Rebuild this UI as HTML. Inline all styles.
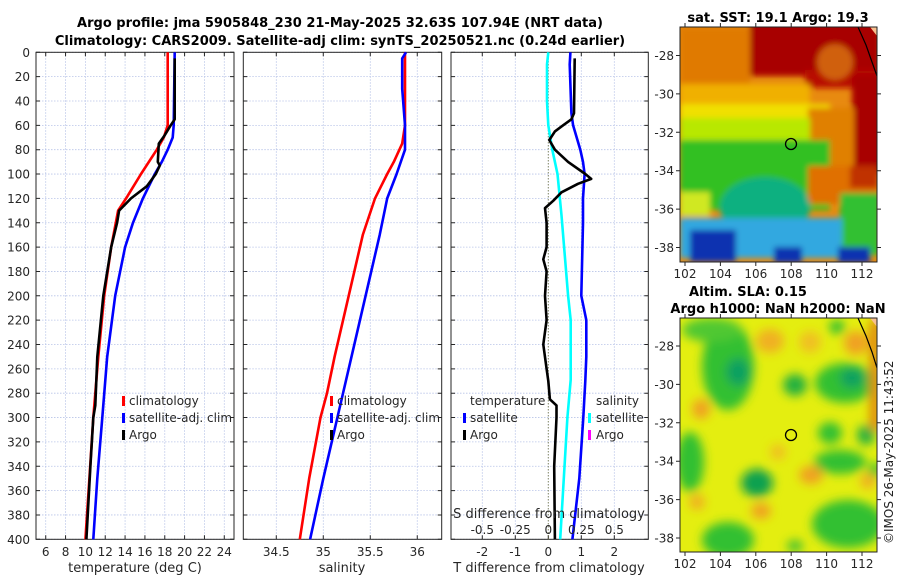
<!DOCTYPE html>
<html><head><meta charset="utf-8"><style>
html,body{margin:0;padding:0;background:#fff;}
svg{display:block;font-family:"DejaVu Sans","Liberation Sans",sans-serif;}
</style></head><body>
<svg id="fig" width="900" height="580" viewBox="0 0 900 580" xmlns="http://www.w3.org/2000/svg">
<defs>
<filter id="blur1" x="-20%" y="-20%" width="140%" height="140%"><feGaussianBlur stdDeviation="3"/></filter>
<filter id="blur2" x="-20%" y="-20%" width="140%" height="140%"><feGaussianBlur stdDeviation="5"/></filter>
<clipPath id="clipTop"><rect x="680" y="27" width="197" height="235"/></clipPath>
<clipPath id="clipBot"><rect x="680" y="318" width="197" height="234"/></clipPath>
</defs>
<text x="340" y="27" text-anchor="middle" font-size="13" font-weight="bold" fill="#000">Argo profile: jma 5905848_230 21-May-2025 32.63S 107.94E (NRT data)</text>
<text x="340" y="45" text-anchor="middle" font-size="13" font-weight="bold" fill="#000">Climatology: CARS2009. Satellite-adj clim: synTS_20250521.nc (0.24d earlier)</text>

<!-- SST map -->
<g>
<text x="778" y="22" text-anchor="middle" font-size="13" font-weight="bold">sat. SST: 19.1 Argo: 19.3</text>
<g clip-path="url(#clipTop)">
<rect x="680" y="27" width="197" height="235" fill="#e88a10"/>
<g filter="url(#blur1)">
<rect x="680" y="27" width="70" height="60" fill="#e07a00"/>
<rect x="750" y="20" width="130" height="56" fill="#a80000"/>
<rect x="805" y="70" width="75" height="18" fill="#b81000"/>
<rect x="852" y="74" width="30" height="100" fill="#a80000"/>
<ellipse cx="835" cy="62" rx="18" ry="18" fill="#d06010"/>
<rect x="680" y="84" width="130" height="24" fill="#f0b000"/>
<rect x="680" y="104" width="150" height="22" fill="#f0e000"/>
<rect x="808" y="108" width="46" height="66" fill="#e08000"/>
<rect x="680" y="118" width="130" height="28" fill="#b8e800"/>
<rect x="680" y="140" width="150" height="70" fill="#30c020"/>
<rect x="808" y="166" width="70" height="38" fill="#e07000"/>
<rect x="850" y="166" width="28" height="22" fill="#c03000"/>
<rect x="680" y="192" width="30" height="24" fill="#d0e820"/>
<ellipse cx="765" cy="207" rx="45" ry="30" fill="#10b080"/>
<rect x="840" y="193" width="40" height="62" fill="#30c030"/>
<rect x="680" y="218" width="162" height="40" fill="#30a8e0"/>
<rect x="690" y="230" width="46" height="32" fill="#0a30b0"/>
<rect x="774" y="247" width="28" height="16" fill="#0a30b0"/>
<rect x="838" y="247" width="32" height="16" fill="#0a30b0"/>
</g>
<path d="M858 27 L866 45 L872 62 L877 76" stroke="#000" stroke-width="1.2" fill="none"/>
<path d="M870 27 L877 27 L877 36 Z" fill="#f8c090"/>
</g>
<rect x="680" y="27" width="197" height="235" fill="none" stroke="#222" stroke-width="1"/>
<circle cx="791" cy="144" r="5.5" fill="none" stroke="#000" stroke-width="1.3"/>
</g>

<!-- SLA map -->
<g>
<text x="748" y="296" text-anchor="middle" font-size="13" font-weight="bold">Altim. SLA: 0.15</text>
<text x="778" y="313" text-anchor="middle" font-size="13" font-weight="bold">Argo h1000: NaN h2000: NaN</text>
<g clip-path="url(#clipBot)">
<rect x="680" y="318" width="197" height="234" fill="#e4ee10"/>
<g filter="url(#blur2)">
<ellipse cx="728" cy="366" rx="26" ry="44" fill="#30c030"/>
<ellipse cx="712" cy="330" rx="30" ry="12" fill="#50c830"/>
<ellipse cx="738" cy="372" rx="12" ry="14" fill="#10a060"/>
<ellipse cx="795" cy="385" rx="12" ry="11" fill="#20b040"/>
<ellipse cx="845" cy="383" rx="30" ry="20" fill="#30c030"/>
<ellipse cx="852" cy="378" rx="12" ry="10" fill="#10a060"/>
<ellipse cx="837" cy="327" rx="8" ry="7" fill="#30c030"/>
<ellipse cx="830" cy="433" rx="12" ry="11" fill="#30c030"/>
<ellipse cx="866" cy="435" rx="9" ry="10" fill="#20b040"/>
<ellipse cx="840" cy="462" rx="26" ry="12" fill="#30c030"/>
<ellipse cx="875" cy="470" rx="7" ry="7" fill="#30c030"/>
<ellipse cx="690" cy="462" rx="14" ry="30" fill="#30c030"/>
<ellipse cx="757" cy="483" rx="16" ry="14" fill="#10a050"/>
<ellipse cx="848" cy="524" rx="36" ry="24" fill="#30c030"/>
<ellipse cx="728" cy="540" rx="26" ry="18" fill="#30c030"/>
<ellipse cx="795" cy="546" rx="8" ry="6" fill="#40c030"/>
<ellipse cx="770" cy="341" rx="14" ry="12" fill="#f0b020"/>
<ellipse cx="810" cy="342" rx="11" ry="11" fill="#f0c020"/>
<ellipse cx="856" cy="343" rx="12" ry="12" fill="#f0a020"/>
<rect x="870" y="320" width="10" height="110" fill="#e08010"/>
<ellipse cx="701" cy="409" rx="9" ry="10" fill="#f0a020"/>
<ellipse cx="778" cy="452" rx="8" ry="8" fill="#f0c020"/>
<ellipse cx="811" cy="475" rx="12" ry="9" fill="#f0a020"/>
<ellipse cx="761" cy="511" rx="10" ry="8" fill="#f0a020"/>
<ellipse cx="697" cy="502" rx="8" ry="8" fill="#f0b020"/>
<ellipse cx="868" cy="481" rx="8" ry="8" fill="#f0b020"/>
</g>
<path d="M858 318 L866 336 L872 352 L877 368" stroke="#000" stroke-width="1.2" fill="none"/>
<path d="M870 318 L877 318 L877 327 Z" fill="#f8c090"/>
</g>
<rect x="680" y="318" width="197" height="234" fill="none" stroke="#222" stroke-width="1"/>
<circle cx="791" cy="435" r="5.5" fill="none" stroke="#000" stroke-width="1.3"/>
</g>
<text transform="translate(893,544) rotate(-90)" font-size="12" fill="#222">©IMOS 26-May-2025 11:43:52</text>
<g id="plots"></g>
</svg>
<script>
// ---- data ----
const depthTicks = [0,20,40,60,80,100,120,140,160,180,200,220,240,260,280,300,320,340,360,380,400];
const tempTicks = [6,8,10,12,14,16,18,20,22,24];
const salTicks = [34.5,35,35.5,36];
const salTickLabels = ["34.5","35","35.5","36"];
const dtTicks = [-2,-1,0,1,2];
const dsTicks = [-0.5,-0.25,0,0.25,0.5];
const dsTickLabels = ["-0.5","-0.25","0","0.25","0.5"];

const climTempDepth = [0,60,70,80,100,120,130,160,200,250,300,350,400];
const climTemp = [18.3,18.3,17.9,17.2,15.6,14.1,13.3,12.6,11.9,11.3,10.8,10.4,10.0];
const satTempDepth = [0,60,70,80,90,100,120,140,160,200,250,300,350,400];
const satTemp = [19.0,18.9,18.8,18.3,17.7,17.0,15.8,14.8,14.0,13.0,12.2,11.7,11.2,10.8];
const argoTempDepth = [5,55,60,68,75,90,93,100,110,120,130,140,160,200,250,290,300,340,400];
const argoTemp = [19.0,19.0,18.6,18.0,17.4,17.3,17.5,17.1,16.2,14.6,13.4,13.2,12.6,11.8,11.2,11.0,10.8,10.5,10.1];

const climSalDepth = [0,60,75,90,100,120,150,200,250,280,300,350,400];
const climSal = [35.87,35.87,35.84,35.75,35.68,35.55,35.42,35.27,35.12,35.04,34.97,34.85,34.75];
const satSalDepth = [0,5,30,60,80,100,120,150,200,250,300,350,400];
const satSal = [35.88,35.84,35.84,35.87,35.87,35.78,35.68,35.6,35.45,35.3,35.15,35.0,34.86];

const satDtDepth = [0,10,50,60,80,90,100,120,140,200,220,250,270,300,350,400];
const satDt = [0.67,0.65,0.7,0.75,0.97,1.05,1.1,1.05,1.05,1.0,1.15,1.15,1.12,1.06,0.94,0.73];
const argoDtDepth = [5,50,55,60,65,72,80,90,100,104,108,115,122,128,140,160,170,180,200,220,240,260,270,285,290,300,340,400];
const argoDt = [0.8,0.78,0.7,0.45,0.2,0.03,0.2,0.6,1.12,1.3,0.9,0.4,0.15,-0.1,-0.05,-0.05,-0.15,-0.05,-0.1,-0.05,-0.15,-0.05,0,0.05,0.25,0.25,0.18,0.2];
const satDsDepth = [0,10,40,60,80,100,134,200,220,269,300,400];
const satDs = [0,-0.01,-0.01,0,0.03,0.07,0.1,0.15,0.17,0.17,0.145,0.09];

// ---- drawing ----
const NS = "http://www.w3.org/2000/svg";
const root = document.getElementById('plots');
const Y0 = 52.3, Y1 = 539.3;
function yScale(d){ return Y0 + (d/400)*(Y1-Y0); }
function mk(tag, attrs, parent){ const e = document.createElementNS(NS, tag); for (const k in attrs) e.setAttribute(k, attrs[k]); (parent||root).appendChild(e); return e; }

const panels = [
  {name:'temperature-panel', x0:36, x1:234, vmin:5.02, vmax:24.98},
  {name:'salinity-panel', x0:243.3, x1:441.7, vmin:34.149, vmax:36.26},
  {name:'difference-panel', x0:451, x1:648.3, vmin:-2.948, vmax:3.03}
];
function xs(p, v){ return p.x0 + (v-p.vmin)/(p.vmax-p.vmin)*(p.x1-p.x0); }

function drawFrame(p, ticks, labels, idx){
  const g = mk('g', {});
  
  
  depthTicks.forEach(d => {
    const l = mk('line', {x1:p.x0, x2:p.x1, y1:yScale(d), y2:yScale(d), stroke:'#b8c4e8', 'stroke-width':0.8, 'stroke-dasharray':'1.5,1.5'}, g);
    
    
  });
  ticks.forEach(v => {
    const x = xs(p, v);
    const l = mk('line', {x1:x, x2:x, y1:Y0, y2:Y1, stroke:'#b8c4e8', 'stroke-width':0.8, 'stroke-dasharray':'1.5,1.5'}, g);
    
    
  });
  const tk = [];
  depthTicks.forEach(d => { const y = yScale(d); tk.push(`M${p.x0} ${y}h4M${p.x1} ${y}h-4`); });
  ticks.forEach(v => { const x = xs(p, v); tk.push(`M${x} ${Y0}v4M${x} ${Y1}v-4`); });
  const tp = mk('path', {d:tk.join(''), stroke:'#262626', 'stroke-width':1, fill:'none'}, g);
  
  
  const fr = mk('rect', {x:p.x0, y:Y0, width:p.x1-p.x0, height:Y1-Y0, fill:'none', stroke:'#262626', 'stroke-width':1}, g);
  
  
  ticks.forEach((v,i) => {
    const t = mk('text', {x:xs(p,v), y:556, 'text-anchor':'middle', 'font-size':12, fill:'#262626'}, g);
    
    
    t.textContent = labels[i];
  });
  return g;
}
function line(g, p, vals, depths, color, name, w){
  const pts = vals.map((v,i) => xs(p,v).toFixed(1)+','+yScale(depths[i]).toFixed(1)).join(' ');
  const pl = mk('polyline', {points:pts, fill:'none', stroke:color, 'stroke-width':w||2.6, 'stroke-linejoin':'round'}, g);
  
  
}
function txt(g, x, y, s, name, anchor, size){
  const t = mk('text', {x:x, y:y, 'font-size':size||12, fill:'#262626', 'text-anchor':anchor||'start'}, g);
  
  
  t.textContent = s;
}
function marker(g, x, y, color, name){
  const r = mk('rect', {x:x, y:y-9, width:3, height:10, fill:color}, g);
  
  
}

// depth labels
depthTicks.forEach(d => {
  const t = mk('text', {x:30, y:yScale(d)+4.5, 'text-anchor':'end', 'font-size':12, fill:'#262626'});
  
  
  t.textContent = d;
});

// panel 1
const P1 = panels[0];
const g1 = drawFrame(P1, tempTicks, tempTicks.map(String));
line(g1, P1, climTemp, climTempDepth, '#ff0000', 'climatology-temp-line');
line(g1, P1, satTemp, satTempDepth, '#0000ff', 'satellite-temp-line');
line(g1, P1, argoTemp, argoTempDepth, '#000000', 'argo-temp-line');
txt(g1, 135, 572, 'temperature (deg C)', 'x-axis-title', 'middle', 13);
marker(g1, 122, 405, '#ff0000', 'legend-climatology-marker'); txt(g1, 129, 405, 'climatology', 'legend-climatology');
marker(g1, 122, 422, '#0000ff', 'legend-satellite-marker'); txt(g1, 129, 422, 'satellite-adj. clim', 'legend-satellite');
marker(g1, 122, 439, '#000000', 'legend-argo-marker'); txt(g1, 129, 439, 'Argo', 'legend-argo');

// panel 2
const P2 = panels[1];
const g2 = drawFrame(P2, salTicks, salTickLabels);
line(g2, P2, climSal, climSalDepth, '#ff0000', 'climatology-salinity-line');
line(g2, P2, satSal, satSalDepth, '#0000ff', 'satellite-salinity-line');
txt(g2, 342, 572, 'salinity', 'x-axis-title', 'middle', 13);
marker(g2, 330, 405, '#ff0000', 'legend-climatology-marker'); txt(g2, 337, 405, 'climatology', 'legend-climatology');
marker(g2, 330, 422, '#0000ff', 'legend-satellite-marker'); txt(g2, 337, 422, 'satellite-adj. clim', 'legend-satellite');
marker(g2, 330, 439, '#000000', 'legend-argo-marker'); txt(g2, 337, 439, 'Argo', 'legend-argo');

// panel 3
const P3 = panels[2];
const g3 = drawFrame(P3, dtTicks, dtTicks.map(String));
const zl = mk('line', {x1:xs(P3,0), x2:xs(P3,0), y1:Y0, y2:Y1, stroke:'#6b6b30', 'stroke-width':1, 'stroke-dasharray':'1,2'}, g3);


line(g3, P3, satDs.map(v => v*4), satDsDepth, '#00ffff', 'satellite-salinity-diff-line');
line(g3, P3, satDt, satDtDepth, '#0000ff', 'satellite-temp-diff-line');
line(g3, P3, argoDt, argoDtDepth, '#000000', 'argo-temp-diff-line');
txt(g3, 549, 572, 'T difference from climatology', 'x-axis-title', 'middle', 13);
txt(g3, 549, 518, 'S difference from climatology', 'secondary-axis-title', 'middle', 13);
dsTicks.forEach((v,i) => txt(g3, xs(P3, v*4), 534, dsTickLabels[i], 'secondary-tick-label', 'middle'));
txt(g3, 470, 405, 'temperature', 'legend-temperature-header');
marker(g3, 463, 422, '#0000ff', 'legend-temp-satellite-marker'); txt(g3, 470, 422, 'satellite', 'legend-temp-satellite');
marker(g3, 463, 439, '#000000', 'legend-temp-argo-marker'); txt(g3, 470, 439, 'Argo', 'legend-temp-argo');
txt(g3, 596, 405, 'salinity', 'legend-salinity-header');
marker(g3, 588, 422, '#00ffff', 'legend-sal-satellite-marker'); txt(g3, 596, 422, 'satellite', 'legend-sal-satellite');
marker(g3, 588, 439, '#ff00ff', 'legend-sal-argo-marker'); txt(g3, 596, 439, 'Argo', 'legend-sal-argo');

// map axes
const lonTicks = [102,104,106,108,110,112];
const latTicks = [-28,-30,-32,-34,-36,-38];
function mapAxes(topY, latRef, bottomY){
  const g = mk('g', {});
  
  
  const tk = [];
  lonTicks.forEach(l => {
    const x = 685 + (l-102)*17.7;
    tk.push(`M${x} ${bottomY}v4M${x} ${topY}v-4`);
    txt(g, x, bottomY+16, String(l), 'lon-tick-label', 'middle');
  });
  latTicks.forEach(l => {
    const y = latRef + (-28-l)*19.2;
    tk.push(`M680 ${y}h-4M877 ${y}h4`);
    txt(g, 674, y+4.5, String(l), 'lat-tick-label', 'end');
  });
  const p = mk('path', {d:tk.join(''), stroke:'#262626', 'stroke-width':1}, g);
  
  
}
mapAxes(27, 55.5, 262);
mapAxes(318, 346, 552);
</script>
</body></html>
